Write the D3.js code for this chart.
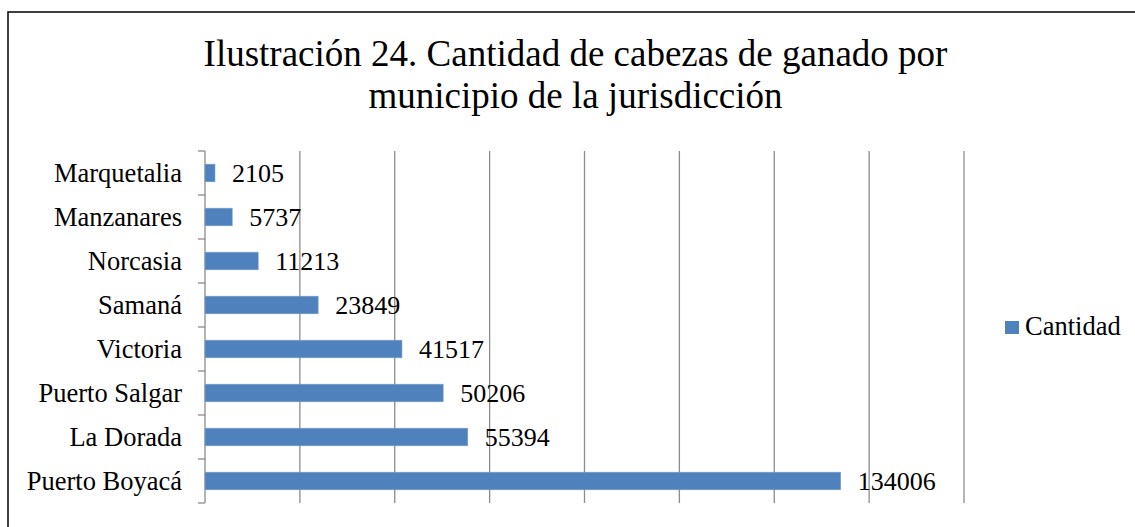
<!DOCTYPE html>
<html>
<head>
<meta charset="utf-8">
<script src="https://cdn.jsdelivr.net/npm/d3@7"></script>
<style>
  html, body { margin: 0; padding: 0; background: #fff; }
  svg { display: block; }
  text { font-family: "Liberation Serif", "Times New Roman", serif; fill: #000; }
</style>
</head>
<body>
<svg id="chart" width="1135" height="527"></svg>
<script>
const categories = ["Marquetalia", "Manzanares", "Norcasia", "Samaná", "Victoria", "Puerto Salgar", "La Dorada", "Puerto Boyacá"];
const values = [2105, 5737, 11213, 23849, 41517, 50206, 55394, 134006];
const xTicks = [0, 20000, 40000, 60000, 80000, 100000, 120000, 140000, 160000];
const titleLines = ["Ilustración 24. Cantidad de cabezas de ganado por", "municipio de la jurisdicción"];
const seriesName = "Cantidad";

const svg = d3.select("#chart");
const W = 1135, H = 527;
const plot = { left: 205, right: 964, top: 151, bottom: 503 };
const barColor = "#4F81BD";
const gridColor = "#8C8C8C";

svg.append("rect").attr("width", W).attr("height", H).attr("fill", "#fff");

// chart border
svg.append("rect")
  .attr("x", 8).attr("y", 12)
  .attr("width", 1134).attr("height", 530)
  .attr("fill", "none").attr("stroke", "#111").attr("stroke-width", 1.6);

// title
svg.append("g").selectAll("text").data(titleLines).join("text")
  .attr("x", 575.5)
  .attr("y", (d, i) => 66 + i * 42)
  .attr("text-anchor", "middle")
  .style("font-size", "37px")
  .text(d => d);

const x = d3.scaleLinear().domain([0, 160000]).range([plot.left, plot.right]);
const y = d3.scaleBand().domain(categories).range([plot.top, plot.bottom])
  .paddingInner(0.6).paddingOuter(0.3);

// vertical gridlines
svg.append("g").selectAll("line").data(xTicks.slice(1)).join("line")
  .attr("x1", d => x(d)).attr("x2", d => x(d))
  .attr("y1", plot.top).attr("y2", plot.bottom)
  .attr("stroke", gridColor).attr("stroke-width", 1.3);

// category axis
const step = y.step();
const boundaries = categories.map(c => y(c) - step * y.paddingInner() / 2);
boundaries.push(plot.bottom);
const axisG = svg.append("g");
axisG.append("line")
  .attr("x1", plot.left).attr("x2", plot.left)
  .attr("y1", plot.top).attr("y2", plot.bottom)
  .attr("stroke", gridColor).attr("stroke-width", 1.3);
axisG.selectAll("line.tick").data(boundaries).join("line")
  .attr("class", "tick")
  .attr("x1", plot.left - 7).attr("x2", plot.left)
  .attr("y1", d => d).attr("y2", d => d)
  .attr("stroke", gridColor).attr("stroke-width", 1.3);
axisG.selectAll("text").data(categories).join("text")
  .attr("x", 182)
  .attr("y", d => y(d) + y.bandwidth() / 2)
  .attr("dy", "0.34em")
  .attr("text-anchor", "end")
  .style("font-size", "26.5px")
  .text(d => d);

// bars
const data = categories.map((c, i) => ({ c, v: values[i] }));
svg.append("g").selectAll("rect").data(data).join("rect")
  .attr("x", x(0))
  .attr("y", d => y(d.c))
  .attr("width", d => x(d.v) - x(0))
  .attr("height", y.bandwidth())
  .attr("fill", barColor)
  .attr("stroke", "#7BA0CD").attr("stroke-width", 0.6);

// data labels
svg.append("g").selectAll("text").data(data).join("text")
  .attr("x", d => x(d.v) + 17)
  .attr("y", d => y(d.c) + y.bandwidth() / 2)
  .attr("dy", "0.34em")
  .style("font-size", "26px")
  .text(d => d.v);

// legend
const lg = svg.append("g");
lg.append("rect").attr("x", 1005).attr("y", 321).attr("width", 14).attr("height", 13).attr("fill", barColor);
lg.append("text").attr("x", 1025).attr("y", 335).style("font-size", "26.5px").text(seriesName);
</script>
</body>
</html>
